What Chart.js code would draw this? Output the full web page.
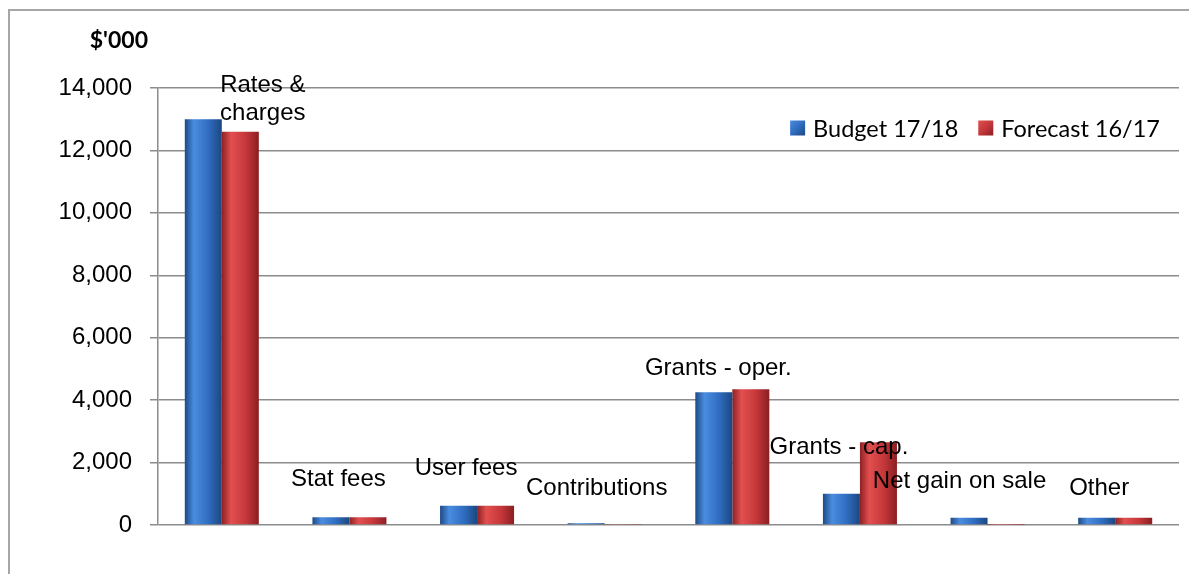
<!DOCTYPE html>
<html>
<head>
<meta charset="utf-8">
<script src="https://cdn.jsdelivr.net/npm/chart.js@4.4.1/dist/chart.umd.min.js"></script>
<style>
    html, body { margin: 0; padding: 0; background: #fff; }
    .frame {
        position: absolute; left: 8px; top: 9px; right: 0; bottom: 0;
        border-top: 2px solid #a6a6a6; border-left: 2px solid #a6a6a6;
    }
    #wrap { position: absolute; left: 0; top: 0; width: 1189px; height: 574px; }
</style>
</head>
<body>
<div class="frame"></div>
<div id="wrap"><canvas id="incomeChart" width="1189" height="574"></canvas></div>
<script>
// chart data ($'000)
const categories = [['Rates &', 'charges'], 'Stat fees', 'User fees', 'Contributions',
    'Grants - oper.', 'Grants - cap.', 'Net gain on sale', 'Other'];
const budget1718 = [13000, 250, 620, 60, 4250, 1000, 230, 230];
const forecast1617 = [12600, 250, 620, 30, 4350, 2650, 10, 230];
const seriesNames = ['Budget 17/18', 'Forecast 16/17'];
const yTicks = [0, 2000, 4000, 6000, 8000, 10000, 12000, 14000];

const CAT_PCT = 0.58;

// horizontal shading so the bars look like the rounded excel ones
const shades = {
    blue: ['#1d4a86', '#4a8de0', '#2f6cbf', '#1c4781'],
    red: ['#8e2123', '#e24f4f', '#c5373a', '#8a1f21']
};

function barShade(c, stops) {
    const chart = c.chart;
    const xs = chart.scales.x;
    if (!xs || !chart.chartArea) return stops[2];
    const center = xs.getPixelForValue(c.dataIndex);
    const barW = (xs.width / categories.length) * CAT_PCT / 2;
    const left = c.datasetIndex === 0 ? center - barW : center;
    const g = chart.ctx.createLinearGradient(left, 0, left + barW, 0);
    g.addColorStop(0, stops[0]);
    g.addColorStop(0.25, stops[1]);
    g.addColorStop(0.65, stops[2]);
    g.addColorStop(1, stops[3]);
    return g;
}

// category names written above each group, nudged like the original
const groupLabels = {
    id: 'groupLabels',
    afterDatasetsDraw(chart, args, opts) {
        const { ctx, scales: { x, y } } = chart;
        ctx.save();
        ctx.font = '24px "Liberation Sans", Arial, sans-serif';
        ctx.fillStyle = '#000';
        ctx.textAlign = 'center';
        ctx.textBaseline = 'middle';
        categories.forEach((cat, i) => {
            const lines = Array.isArray(cat) ? cat : [cat];
            const top = y.getPixelForValue(Math.max(budget1718[i], forecast1617[i]));
            const cx = x.getPixelForValue(i) + opts.nudge[i][0];
            const cy = top - opts.nudge[i][1];
            lines.forEach((ln, k) => {
                ctx.fillText(ln, cx, cy - (lines.length - 1 - k) * 28);
            });
        });
        ctx.restore();
    }
};

// unit caption and legend drawn in the plot like excel does
const extras = {
    id: 'extras',
    afterDraw(chart) {
        const { ctx, chartArea } = chart;
        ctx.save();
        ctx.font = 'bold 23px Lato, "Liberation Sans", sans-serif';
        ctx.fillStyle = '#000';
        ctx.textAlign = 'right';
        ctx.textBaseline = 'middle';
        ctx.fillText("$'000", chartArea.left - 10, 41);

        ctx.font = '23.5px Lato, "Liberation Sans", sans-serif';
        ctx.textAlign = 'left';
        const cy = chartArea.top + 40;
        const items = [[seriesNames[0], shades.blue], [seriesNames[1], shades.red]];
        const box = 15, gap = 8, between = 20;
        let total = 0;
        items.forEach(it => { total += box + gap + ctx.measureText(it[0]).width; });
        total += between;
        let x0 = chartArea.right - 19 - total;
        items.forEach(([name, st]) => {
            const g = ctx.createLinearGradient(x0, cy - box / 2, x0 + box, cy + box / 2);
            g.addColorStop(0, st[1]);
            g.addColorStop(0.5, st[2]);
            g.addColorStop(1, st[3]);
            ctx.fillStyle = g;
            ctx.fillRect(x0, cy - box / 2, box, box);
            ctx.fillStyle = '#000';
            ctx.fillText(name, x0 + box + gap, cy + 1);
            x0 += box + gap + ctx.measureText(name).width + between;
        });
        ctx.restore();
    }
};

const ctx = document.getElementById('incomeChart').getContext('2d');

new Chart(ctx, {
    type: 'bar',
    data: {
        labels: categories,
        datasets: [
            {
                label: seriesNames[0],
                data: budget1718,
                backgroundColor: c => barShade(c, shades.blue),
                categoryPercentage: CAT_PCT,
                barPercentage: 1
            },
            {
                label: seriesNames[1],
                data: forecast1617,
                backgroundColor: c => barShade(c, shades.red),
                categoryPercentage: CAT_PCT,
                barPercentage: 1
            }
        ]
    },
    options: {
        responsive: false,
        animation: false,
        layout: { padding: { top: 88, right: 10, bottom: 49, left: 0 } },
        scales: {
            x: {
                display: false
            },
            y: {
                min: 0,
                max: 14000,
                afterBuildTicks: axis => { axis.ticks = yTicks.map(v => ({ value: v })); },
                afterFit: axis => { axis.width = 158; },
                border: { display: true, color: '#8c8c8c', width: 1.5 },
                grid: { color: '#8c8c8c', lineWidth: 1.5, tickLength: 8 },
                ticks: {
                    padding: 18,
                    color: '#000',
                    font: { family: '"Liberation Sans", Arial, sans-serif', size: 24 },
                    callback: v => v.toLocaleString('en-US')
                }
            }
        },
        plugins: {
            legend: { display: false },
            tooltip: { enabled: false },
            groupLabels: {
                nudge: [[41, 6], [-11, 38], [-11, 37], [-8, 35], [-14, 21], [-21, -5], [-28, 36], [-16, 29]]
            }
        }
    },
    plugins: [groupLabels, extras]
});
</script>
</body>
</html>
